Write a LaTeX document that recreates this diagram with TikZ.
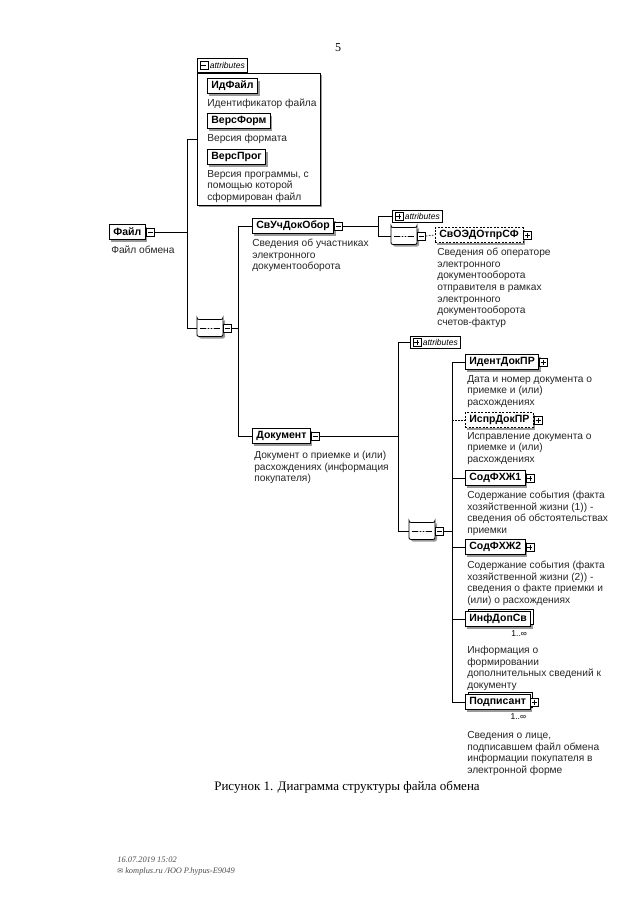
\documentclass[tikz,border=0pt]{standalone}
\usepackage{fontspec}
\setmainfont{Liberation Serif}
\setsansfont{Liberation Sans}
\newfontfamily\symfont{DejaVu Sans}
\usetikzlibrary{positioning}
\usetikzlibrary{shadows}
\usetikzlibrary{shapes.misc}
\tikzset{elem/.style = {draw, fill = white, anchor = west, inner xsep = 4, inner ysep = 0, minimum height = 15,
    line width = 0.8pt, font = \sffamily\bfseries\fontsize{10.5}{12}\selectfont,
    drop shadow = {shadow xshift = 2, shadow yshift = 2, fill = black!40, opacity = 1}}}
\tikzset{optelem/.style = {elem, dash pattern = on 2pt off 1.5pt}}
\tikzset{multelem/.style = {elem, copy shadow = {shadow xshift = 2.5, shadow yshift = -2.5}}}
\tikzset{desc/.style = {anchor = north west, inner sep = 0, align = left, text = black!85,
    font = \sffamily\fontsize{10.2}{11.6}\selectfont}}
\tikzset{mult/.style = {anchor = north east, inner sep = 0, font = \sffamily\fontsize{8.5}{9}\selectfont}}
\tikzset{minusicon/.style = {draw, fill = white, anchor = west, minimum size = 8, inner sep = 0,
    path picture = {\draw ([xshift = 1.5]path picture bounding box.west) -- ([xshift = -1.5]path picture bounding box.east);}}}
\tikzset{plusicon/.style = {draw, fill = white, anchor = west, minimum size = 8, inner sep = 0,
    path picture = {\draw ([xshift = 1.5]path picture bounding box.west) -- ([xshift = -1.5]path picture bounding box.east);
      \draw ([yshift = -1.5]path picture bounding box.north) -- ([yshift = 1.5]path picture bounding box.south);}}}
\tikzset{seqbox/.style = {chamfered rectangle, chamfered rectangle xsep = 4pt, draw, fill = white, line width = 0.8pt,
    minimum width = 26, minimum height = 17, inner sep = 0, rounded corners = 2,
    drop shadow = {shadow xshift = 2, shadow yshift = 2, fill = black!40, opacity = 1},
    path picture = {\draw ([xshift = 3]path picture bounding box.west) -- ([xshift = -3]path picture bounding box.east);
      \foreach \dx in {-3, 0, 3} \fill ([xshift = \dx]path picture bounding box.center) circle (1.1pt);}}}
\tikzset{attrtab/.style = {draw, fill = white, anchor = south west, minimum height = 14, inner ysep = 0, inner xsep = 2.5,
    font = \sffamily\itshape\fontsize{8.5}{9}\selectfont}}
\tikzset{optline/.style = {dash pattern = on 1.5pt off 1.5pt}}

\begin{document}
\begin{tikzpicture}[x = 1pt, y = -1pt, line width = 0.6pt]
  \useasboundingbox (0,0) rectangle (640,905);

  \node [font = \fontsize{12}{14}\selectfont] (page) at (338,48) {5};

  % attributes of the file
  \node [draw, fill = white, anchor = north west, minimum width = 123, minimum height = 132, inner sep = 0,
    drop shadow = {shadow xshift = 1.2, shadow yshift = 1.2, fill = black!40, opacity = 1}] (fattr) at (197,73) {};
  \node [attrtab] (fattrtab) at (fattr.north west) {\hspace{10pt}attributes};
  \node [minusicon] (fattricon) at ([xshift = 2.5]fattrtab.west) {};

  \node [elem] (idf) at (207,86) {ИдФайл};
  \node [desc] (idfdesc) at (207,99) {Идентификатор файла};
  \node [elem] (versf) at (207,121) {ВерсФорм};
  \node [desc] (versfdesc) at (207,134) {Версия формата};
  \node [elem] (versp) at (207,157) {ВерсПрог};
  \node [desc] (verspdesc) at (207,170) {Версия программы, с\\помощью которой\\сформирован файл};

  % root
  \node [elem] (file) at (109,232) {Файл};
  \node [minusicon] (fileicon) at (file.east) {};
  \node [desc] (filedesc) at (111,246) {Файл обмена};

  \node [seqbox] (seq1) at (210,328) {};
  \node [minusicon] (seq1icon) at (seq1.east) {};

  \coordinate (t1) at (187,0);
  \draw (fileicon.east) -- (t1 |- fileicon.east);
  \draw (fattr.west) -- (t1 |- fattr.west) -- (t1 |- seq1.west) -- (seq1.west);

  % first level
  \node [elem] (svuch) at (252,226) {СвУчДокОбор};
  \node [minusicon] (svuchicon) at (svuch.east) {};
  \node [desc] (svuchdesc) at (252,239) {Сведения об участниках\\электронного\\документооборота};

  \node [elem] (dok) at (252,436) {Документ};
  \node [minusicon] (dokicon) at (dok.east) {};
  \node [desc] (dokdesc) at (254,451) {Документ о приемке и (или)\\расхождениях (информация\\покупателя)};

  \coordinate (t2) at (238,0);
  \draw (seq1icon.east) -- (t2 |- seq1icon.east);
  \draw (svuch.west) -- (t2 |- svuch.west) -- (t2 |- dok.west) -- (dok.west);

  % participants
  \node [attrtab, anchor = west, minimum height = 12] (attr2) at (392,216) {\hspace{10pt}attributes};
  \node [plusicon] (attr2icon) at ([xshift = 2.5]attr2.west) {};
  \node [seqbox] (seq2) at (404,236) {};
  \node [minusicon] (seq2icon) at (seq2.east) {};
  \node [optelem] (svoedo) at (435,235) {СвОЭДОтпрСФ};
  \node [plusicon] (svoedoicon) at (svoedo.east) {};
  \node [desc] (svoedodesc) at (437,248) {Сведения об операторе\\электронного\\документооборота\\отправителя в рамках\\электронного\\документооборота\\счетов-фактур};

  \coordinate (t3) at (378,0);
  \draw (svuchicon.east) -- (t3 |- svuchicon.east);
  \draw (attr2.west) -- (t3 |- attr2.west) -- (t3 |- seq2.west) -- (seq2.west);
  \draw [optline] (seq2icon.east) -- (svoedo.west);

  % document
  \node [attrtab, anchor = west, minimum height = 12] (attr3) at (410,342) {\hspace{10pt}attributes};
  \node [plusicon] (attr3icon) at ([xshift = 2.5]attr3.west) {};
  \node [seqbox] (seq3) at (422,531) {};
  \node [minusicon] (seq3icon) at (seq3.east) {};

  \coordinate (t4) at (398,0);
  \draw (dokicon.east) -- (t4 |- dokicon.east);
  \draw (attr3.west) -- (t4 |- attr3.west) -- (t4 |- seq3.west) -- (seq3.west);

  \node [elem] (ident) at (465,362) {ИдентДокПР};
  \node [plusicon] (identicon) at (ident.east) {};
  \node [desc] (identdesc) at (467,375) {Дата и номер документа о\\приемке и (или)\\расхождениях};

  \node [optelem] (ispr) at (465,420) {ИспрДокПР};
  \node [plusicon] (ispricon) at (ispr.east) {};
  \node [desc] (isprdesc) at (467,432) {Исправление документа о\\приемке и (или)\\расхождениях};

  \node [elem] (sfx1) at (465,478) {СодФХЖ1};
  \node [plusicon] (sfx1icon) at (sfx1.east) {};
  \node [desc] (sfx1desc) at (467,491) {Содержание события (факта\\хозяйственной жизни (1)) -\\сведения об обстоятельствах\\приемки};

  \node [elem] (sfx2) at (465,547) {СодФХЖ2};
  \node [plusicon] (sfx2icon) at (sfx2.east) {};
  \node [desc] (sfx2desc) at (467,561) {Содержание события (факта\\хозяйственной жизни (2)) -\\сведения о факте приемки и\\(или) о расхождениях};

  \node [multelem] (infdop) at (465,619) {ИнфДопСв};
  \node [mult] (infdopmult) at ([xshift = -4, yshift = -3]infdop.south east) {1..∞};
  \node [desc] (infdopdesc) at (467,646) {Информация о\\формировании\\дополнительных сведений к\\документу};

  \node [multelem] (podp) at (465,702) {Подписант};
  \node [plusicon] (podpicon) at (podp.east) {};
  \node [mult] (podpmult) at ([xshift = -4, yshift = -3]podp.south east) {1..∞};
  \node [desc] (podpdesc) at (467,731) {Сведения о лице,\\подписавшем файл обмена\\информации покупателя в\\электронной форме};

  \coordinate (t5) at (452,0);
  \draw (seq3icon.east) -- (t5 |- seq3icon.east);
  \draw (t5 |- ident.west) -- (t5 |- podp.west);
  \foreach \n in {ident, sfx1, sfx2, infdop, podp}
    \draw (t5 |- \n.west) -- (\n.west);
  \draw [optline] (t5 |- ispr.west) -- (ispr.west);

  % caption and stamp
  \node [font = \fontsize{13}{15}\selectfont] (caption) at (347,787) {Рисунок 1. Диаграмма структуры файла обмена};
  \node [anchor = north west, inner sep = 0, align = left, text = black!70,
    font = \itshape\fontsize{8.4}{11}\selectfont] (stamp) at (117,857)
    {16.07.2019 15:02\\{\symfont\upshape\fontsize{7}{11}\selectfont ✉} komplus.ru /ЮО Р.hypus-E9049};
\end{tikzpicture}
\end{document}
